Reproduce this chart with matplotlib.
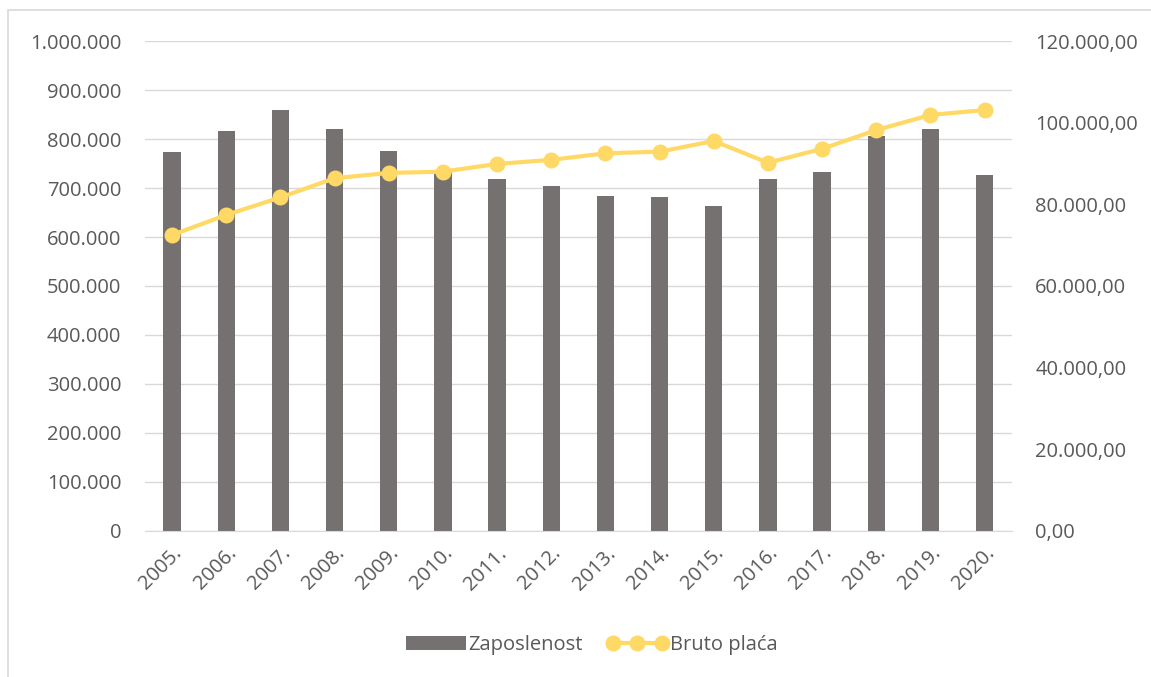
import matplotlib.pyplot as plt
from matplotlib.patches import Rectangle
from matplotlib.ticker import FuncFormatter, MultipleLocator

plt.rcParams['font.family'] = ['Open Sans', 'DejaVu Sans']

# podaci
godine = ['2005.', '2006.', '2007.', '2008.', '2009.', '2010.', '2011.', '2012.',
          '2013.', '2014.', '2015.', '2016.', '2017.', '2018.', '2019.', '2020.']
zaposlenost = [774000, 816000, 859000, 820000, 776000, 734000, 718000, 705000,
               684000, 681000, 663000, 718000, 733000, 806000, 820000, 726000]
bruto_placa = [72500, 77400, 81700, 86400, 87700, 88000, 89900, 90900,
               92500, 92900, 95500, 90200, 93600, 98200, 101900, 103100]

siva = '#767171'
zuta = '#FFD966'
tekst = '#595959'
mreza = '#D9D9D9'
vel = 14.5


def fmt_lijevo(v, pos):
    return f'{int(v):,}'.replace(',', '.')


def fmt_desno(v, pos):
    s = f'{v:,.2f}'
    return s.replace(',', 'X').replace('.', ',').replace('X', '.')


fig = plt.figure(figsize=(11.51, 6.77), dpi=100)
ax = fig.add_axes([0.126, 0.2157, 0.753, 0.7237])
ax2 = ax.twinx()

x = list(range(len(godine)))
b = ax.bar(x, zaposlenost, width=0.32, color=siva, label='Zaposlenost', zorder=2)
l, = ax2.plot(x, bruto_placa, color=zuta, lw=3, marker='o', markersize=10.5,
              label='Bruto plaća', zorder=3)

ax.set_xlim(-0.5, len(godine) - 0.5)
ax.set_ylim(0, 1000000)
ax2.set_ylim(0, 120000)
ax.yaxis.set_major_locator(MultipleLocator(100000))
ax2.yaxis.set_major_locator(MultipleLocator(20000))
ax.yaxis.set_major_formatter(FuncFormatter(fmt_lijevo))
ax2.yaxis.set_major_formatter(FuncFormatter(fmt_desno))

ax.grid(axis='y', color=mreza, lw=1, zorder=0)
ax.set_axisbelow(True)
for a in (ax, ax2):
    for s in ('top', 'left', 'right'):
        a.spines[s].set_visible(False)
    a.spines['bottom'].set_color(mreza)
    a.tick_params(length=0, colors=tekst, labelsize=vel)
ax2.spines['bottom'].set_visible(False)
ax.tick_params(axis='y', pad=17)
ax2.tick_params(axis='y', pad=17)

ax.set_xticks(x)
ax.set_xticklabels(godine, rotation=45, ha='right', rotation_mode='anchor')
ax.tick_params(axis='x', pad=9)

fig.legend([b, l], ['Zaposlenost', 'Bruto plaća'], loc='center',
           bbox_to_anchor=(0.514, 0.047), ncol=2, frameon=False, numpoints=3,
           fontsize=vel, labelcolor=tekst, handlelength=3.0,
           handletextpad=0.1, columnspacing=1.2)

fig.patches.append(Rectangle((0.007, -0.01), 1.2, 0.995, transform=fig.transFigure,
                             fill=False, edgecolor=mreza, lw=1.2))

fig.savefig('out.png', dpi=100)
